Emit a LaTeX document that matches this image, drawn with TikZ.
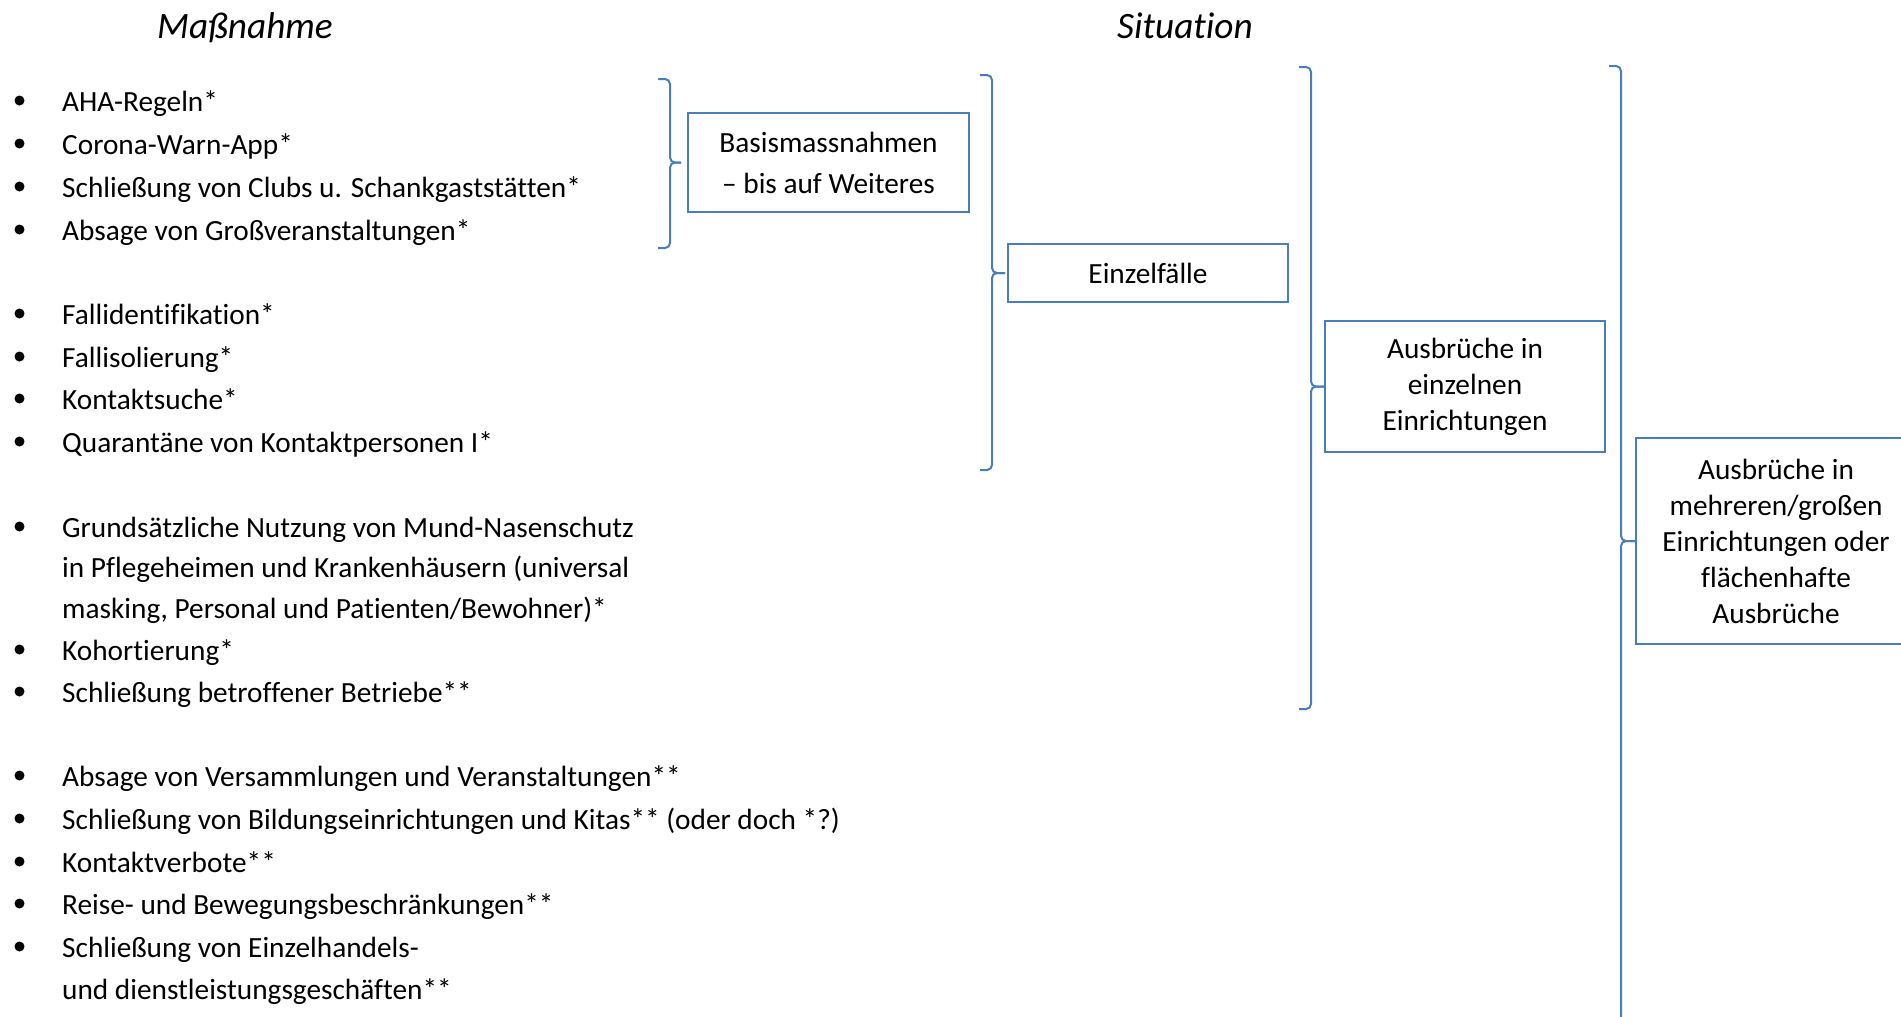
\documentclass[tikz,border=0pt]{standalone}
\usepackage{fontspec}
\setmainfont{Carlito}[Ligatures={NoCommon}]
\definecolor{wordblue}{RGB}{74,126,187}
\newcommand{\mybody}{\fontsize{29.3}{36}\selectfont}
\newcommand{\mybodywide}{\fontsize{29.3}{41}\selectfont}
\newcommand{\myhead}{\fontsize{37.3}{44}\selectfont\itshape}
\newcommand{\wbrace}[5]{%
  \draw[bl, rounded corners=5pt] (#1-12,#2) -- (#1,#2) -- (#1,0 |- #4.west) -- ([xshift=-#5pt]#4.west);
  \draw[bl, rounded corners=5pt] ([xshift=-#5pt]#4.west) -- (#1,0 |- #4.west) -- (#1,#3) -- (#1-12,#3);}
\begin{document}
\begin{tikzpicture}[x=1pt,y=-1pt,
  bl/.style={draw=wordblue, line width=2pt},
  box/.style={draw=wordblue, line width=2pt, minimum width=280pt, align=center, inner sep=0pt, font=\mybody},
  item/.style={anchor=base west, inner sep=0pt, font=\mybody},
  dot/.style={circle, fill=black, inner sep=0pt, minimum size=10pt},
  head/.style={anchor=base, inner sep=0pt, font=\myhead}]
\useasboundingbox (0,0) rectangle (1901,1017);
\clip (0,0) rectangle (1901,1017);

% headings
\node[head] (hm) at (245,38) {Maßnahme};
\node[head] (hs) at (1185,38) {Situation};

% group 1
\node[dot] (d1) at (19.5,100.5) {}; \node[item] (i1) at (62,111) {AHA-Regeln*};
\node[dot] (d2) at (19.5,143.5) {}; \node[item] (i2) at (62,154) {Corona-Warn-App*};
\node[dot] (d3) at (19.5,186.5) {}; \node[item] (i3) at (62,197) {Schließung von Clubs u. Schankgaststätten*};
\node[dot] (d4) at (19.5,229.5) {}; \node[item] (i4) at (62,240) {Absage von Großveranstaltungen*};

% group 2
\node[dot] (d5) at (19.5,313.5) {}; \node[item] (i5) at (62,324) {Fallidentifikation*};
\node[dot] (d6) at (19.5,356.5) {}; \node[item] (i6) at (62,367) {Fallisolierung*};
\node[dot] (d7) at (19.5,398.5) {}; \node[item] (i7) at (62,409) {Kontaktsuche*};
\node[dot] (d8) at (19.5,441.5) {}; \node[item] (i8) at (62,452) {Quarantäne von Kontaktpersonen I*};

% group 3
\node[dot] (d9) at (19.5,526.5) {}; \node[item] (i9) at (62,537) {Grundsätzliche Nutzung von Mund-Nasenschutz};
\node[item] (i9b) at (62,577) {in Pflegeheimen und Krankenhäusern (universal};
\node[item] (i9c) at (62,618) {masking, Personal und Patienten/Bewohner)*};
\node[dot] (d10) at (19.5,649.5) {}; \node[item] (i10) at (62,660) {Kohortierung*};
\node[dot] (d11) at (19.5,691.5) {}; \node[item] (i11) at (62,702) {Schließung betroffener Betriebe**};

% group 4
\node[dot] (d12) at (19.5,775.5) {}; \node[item] (i12) at (62,786) {Absage von Versammlungen und Veranstaltungen**};
\node[dot] (d13) at (19.5,818.5) {}; \node[item] (i13) at (62,829) {Schließung von Bildungseinrichtungen und Kitas** (oder doch *?)};
\node[dot] (d14) at (19.5,861.5) {}; \node[item] (i14) at (62,872) {Kontaktverbote**};
\node[dot] (d15) at (19.5,903.5) {}; \node[item] (i15) at (62,914) {Reise- und Bewegungsbeschränkungen**};
\node[dot] (d16) at (19.5,946.5) {}; \node[item] (i16) at (62,957) {Schließung von Einzelhandels-};
\node[item] (i16b) at (62,999) {und dienstleistungsgeschäften**};

% situation boxes
\node[box, font=\mybodywide, minimum width=281pt, minimum height=99pt] (b1) at (828.5,162.5) {Basismassnahmen\\– bis auf Weiteres};
\node[box, minimum height=58pt] (b2) at (1148,273) {Einzelfälle};
\node[box, minimum height=131pt] (b3) at (1465,386.5) {Ausbrüche in\\einzelnen\\Einrichtungen};
\node[box, minimum height=206pt] (b4) at (1776,541) {Ausbrüche in\\mehreren/großen\\Einrichtungen oder\\flächenhafte\\Ausbrüche};

% braces
\wbrace{670}{79}{248}{b1}{6}
\wbrace{992}{75}{470}{b2}{2}
\wbrace{1311}{67}{709}{b3}{0}
\wbrace{1621}{66}{1040}{b4}{0}
\end{tikzpicture}
\end{document}
